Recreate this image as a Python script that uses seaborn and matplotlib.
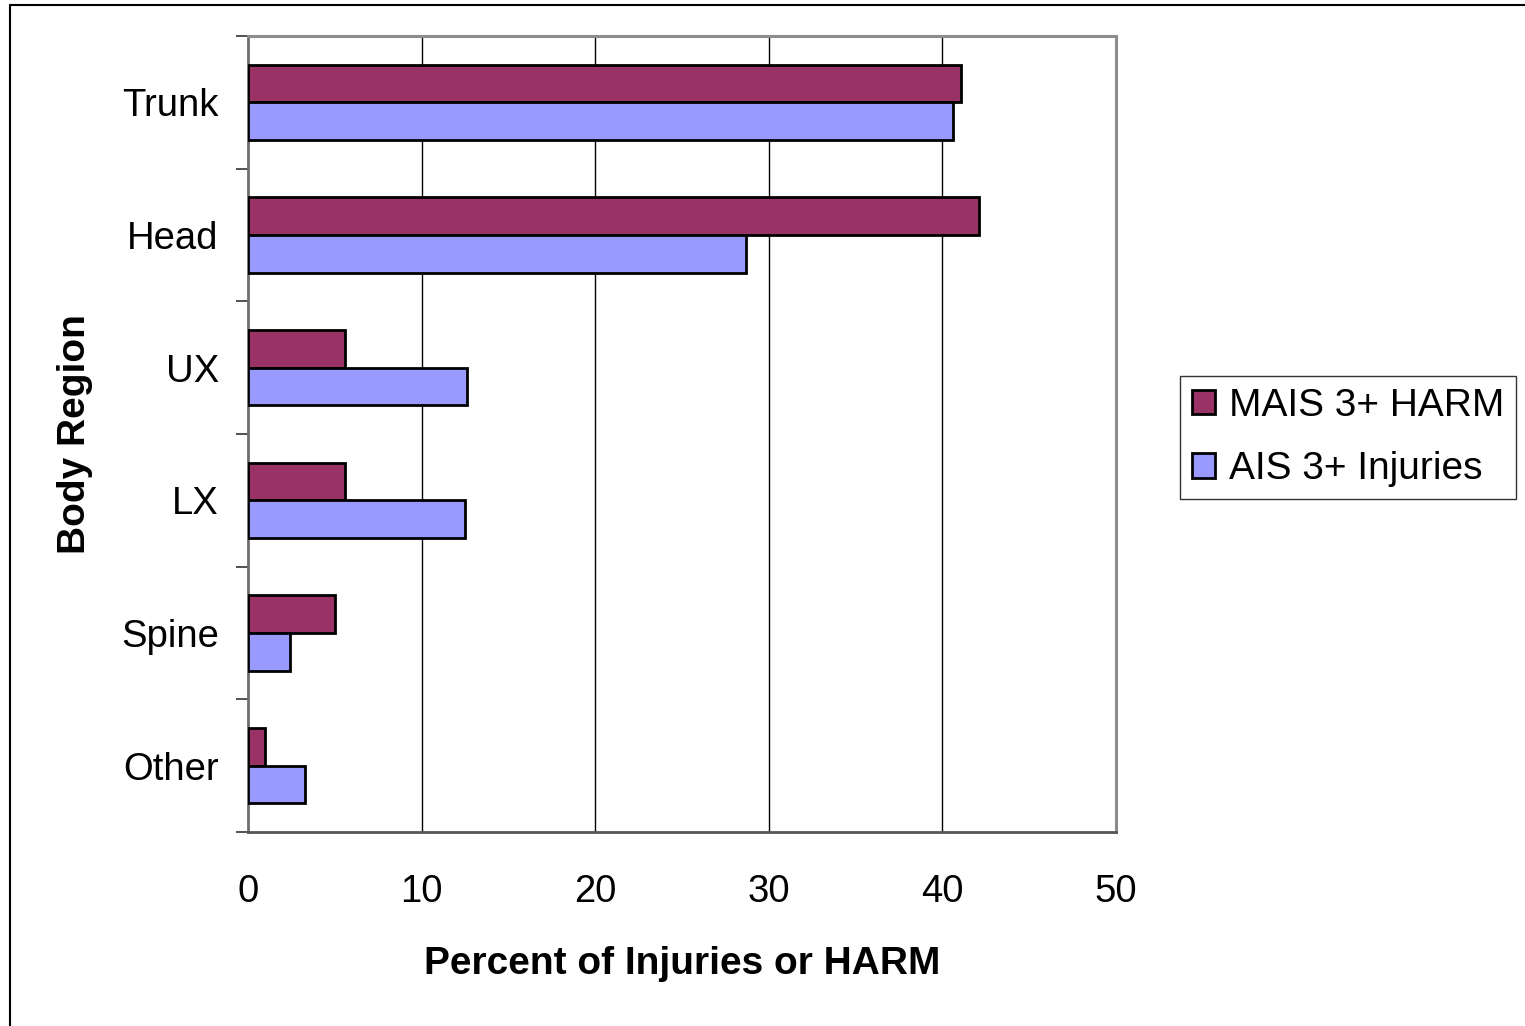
import matplotlib
matplotlib.use("Agg")
import matplotlib.pyplot as plt
from matplotlib.patches import Patch
from matplotlib.ticker import FixedLocator
import seaborn as sns
import pandas as pd

regions = ["Trunk", "Head", "UX", "LX", "Spine", "Other"]
series_names = ["MAIS 3+ HARM", "AIS 3+ Injuries"]
mais_harm = [41.1, 42.1, 5.6, 5.6, 5.0, 1.0]
ais_injuries = [40.6, 28.7, 12.6, 12.5, 2.4, 3.3]
x_ticks = [0, 10, 20, 30, 40, 50]
colors = ["#993366", "#9999FF"]

df = pd.DataFrame({
    "Body Region": regions * 2,
    "Percent": mais_harm + ais_injuries,
    "Series": [series_names[0]] * len(regions) + [series_names[1]] * len(regions),
})

sns.set_theme(style="white")
plt.rcParams["font.family"] = ["Liberation Sans", "DejaVu Sans"]
plt.rcParams["text.color"] = "black"
plt.rcParams["axes.labelcolor"] = "black"
plt.rcParams["xtick.color"] = "black"
plt.rcParams["ytick.color"] = "black"

fig = plt.figure(figsize=(15.25, 10.26), dpi=100)
ax = fig.add_axes([248 / 1525, 1 - 832 / 1026, (1116 - 248) / 1525, (832 - 36) / 1026])

sns.barplot(data=df, x="Percent", y="Body Region", hue="Series",
            hue_order=series_names, order=regions, palette=colors,
            orient="h", width=0.57, gap=0, edgecolor="black",
            linewidth=2, saturation=1, legend=False, ax=ax, zorder=3)

ax.set_xlim(0, 50)
ax.set_ylim(len(regions) - 0.5, -0.5)
ax.set_xticks(x_ticks)
ax.set_xticklabels([str(t) for t in x_ticks], fontsize=27.5)
ax.tick_params(axis="x", direction="out", length=9, width=1.2, color="#333333", pad=21)
ax.tick_params(axis="y", which="major", length=0, pad=21, labelsize=27.5)
ax.yaxis.set_minor_locator(FixedLocator([i - 0.5 for i in range(len(regions) + 1)]))
ax.tick_params(axis="y", which="minor", direction="out", length=9, width=1.2, color="#333333", left=True)

for t in x_ticks[1:-1]:
    ax.axvline(t, color="black", linewidth=1, zorder=1)

for side in ["top", "right"]:
    ax.spines[side].set_visible(True)
    ax.spines[side].set_color("#8c8c8c")
    ax.spines[side].set_linewidth(2.2)
ax.spines["left"].set_color("#6e6e6e")
ax.spines["left"].set_linewidth(2)
ax.spines["bottom"].set_color("#555555")
ax.spines["bottom"].set_linewidth(2)

ax.set_xlabel("Percent of Injuries or HARM", fontsize=28, fontweight="bold", labelpad=26)
ax.set_ylabel("Body Region", fontsize=28, fontweight="bold", labelpad=20)

handles = [Patch(facecolor=c, edgecolor="black", linewidth=2) for c in colors]
leg = fig.legend(handles, series_names, loc="upper left",
                 bbox_to_anchor=(1180 / 1525, 1 - 376 / 1026),
                 fontsize=28, frameon=True, fancybox=False, edgecolor="black",
                 handlelength=0.6, handleheight=0.6, handletextpad=0.35,
                 borderpad=0.3, labelspacing=0.7, borderaxespad=0)
leg.get_frame().set_linewidth(1)

# outer chart border (left and top edges)
fig.add_artist(plt.Line2D([10 / 1525, 10 / 1525], [0, 1 - 5 / 1026],
                          transform=fig.transFigure, color="black", linewidth=1.5))
fig.add_artist(plt.Line2D([10 / 1525, 1], [1 - 5 / 1026, 1 - 5 / 1026],
                          transform=fig.transFigure, color="black", linewidth=1.5))

fig.savefig("out.png", dpi=100)
